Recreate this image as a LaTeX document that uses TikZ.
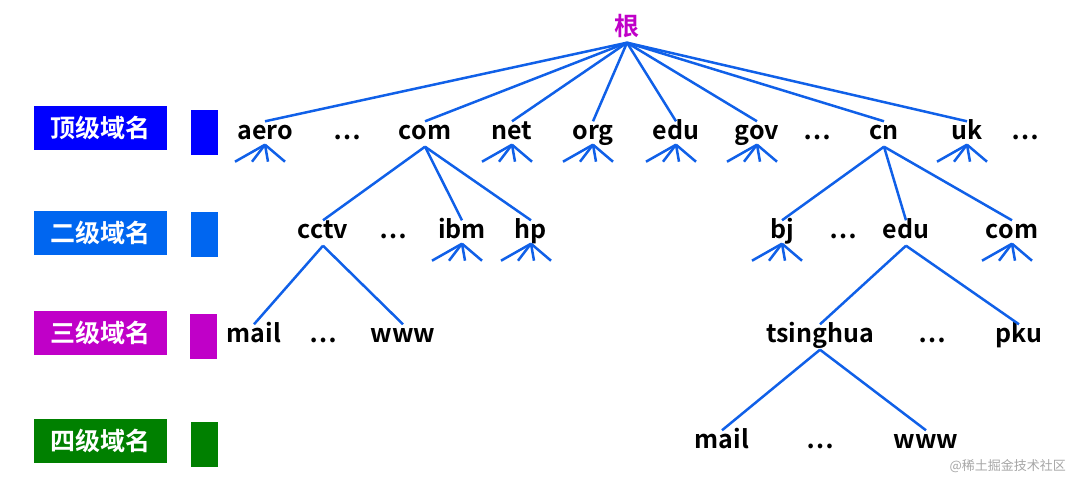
\documentclass[tikz,border=0pt]{standalone}
\usepackage{fontspec}
\setmainfont{Noto Sans CJK SC}[BoldFont={* Bold}]
\definecolor{lblue}{HTML}{0066F0}
\definecolor{edge}{HTML}{1060E8}
\definecolor{mag}{HTML}{C000C8}
\definecolor{dgreen}{HTML}{008000}
\begin{document}
\begin{tikzpicture}[x=1pt,y=-1pt,
  t/.style={font=\fontsize{25}{28}\selectfont\bfseries, inner sep=1pt, text height=17, text depth=6},
  lab/.style={font=\fontsize{25}{28}\selectfont\bfseries, text=white, minimum width=133, minimum height=44, inner sep=0},
  sq/.style={minimum width=27, minimum height=45, inner sep=0},
  e/.style={draw=edge, line width=2.5pt}]
\useasboundingbox (0,0) rectangle (1072,482);
\newcommand\fan[1]{\foreach \dx in {-30,-13,3,20}{\draw[e] (#1.south) ++(0,-2) -- ++(\dx,17);}}
\node[t, text=mag] (root) at (627,30) {根};
% labels
\node[lab, fill=blue] (l1) at (100,128) {顶级域名};
\node[lab, fill=lblue] (l2) at (100,233) {二级域名};
\node[lab, fill=mag] (l3) at (100,333) {三级域名};
\node[lab, fill=dgreen] (l4) at (100,441) {四级域名};
\node[sq, fill=blue] (s1) at (204,132) {};
\node[sq, fill=lblue] (s2) at (204,234) {};
\node[sq, fill=mag] (s3) at (203,336) {};
\node[sq, fill=dgreen] (s4) at (204,444) {};
% tier 1
\foreach \n/\x/\s in {aero/265/aero, d1/347/…, com/425/com, net/512/net, org/593/org, edu/676/edu, gov/757/gov, d2/817/…, cn/884/cn, uk/967/uk, d3/1025/…}
  {\node[t] (\n) at (\x,134) {\s};}
\foreach \n in {aero,com,net,org,edu,gov,cn,uk}{\draw[e] (root.south) -- (\n.north);}
% tier 2
\foreach \n/\x/\s in {cctv/323/cctv, d4/393/…, ibm/462/ibm, hp/531/hp, bj/782/bj, d5/843/…, edu2/906/edu, com2/1012/com}
  {\node[t] (\n) at (\x,233) {\s};}
\foreach \n in {cctv,ibm,hp}{\draw[e] (com.south) -- (\n.north);}
\foreach \n in {bj,edu2,com2}{\draw[e] (cn.south) -- (\n.north);}
% tier 3
\foreach \n/\x/\s in {mail/254/mail, d6/323/…, www/403/www, tsinghua/820/tsinghua, d7/932/…, pku/1019/pku}
  {\node[t] (\n) at (\x,337) {\s};}
\foreach \n in {mail,www}{\draw[e] (cctv.south) -- (\n.north);}
\foreach \n in {tsinghua,pku}{\draw[e] (edu2.south) -- (\n.north);}
% tier 4
\foreach \n/\x/\s in {mail2/722/mail, d8/820/…, www2/926/www}
  {\node[t] (\n) at (\x,443) {\s};}
\foreach \n in {mail2,www2}{\draw[e] (tsinghua.south) -- (\n.north);}
% fans
\fan{aero}\fan{net}\fan{org}\fan{edu}\fan{gov}\fan{uk}\fan{ibm}\fan{hp}\fan{bj}\fan{com2}
\node[text=gray!70, font=\fontsize{13}{15}\selectfont, anchor=east, inner sep=0] (wm) at (1066,466) {@稀土掘金技术社区};
\end{tikzpicture}
\end{document}
